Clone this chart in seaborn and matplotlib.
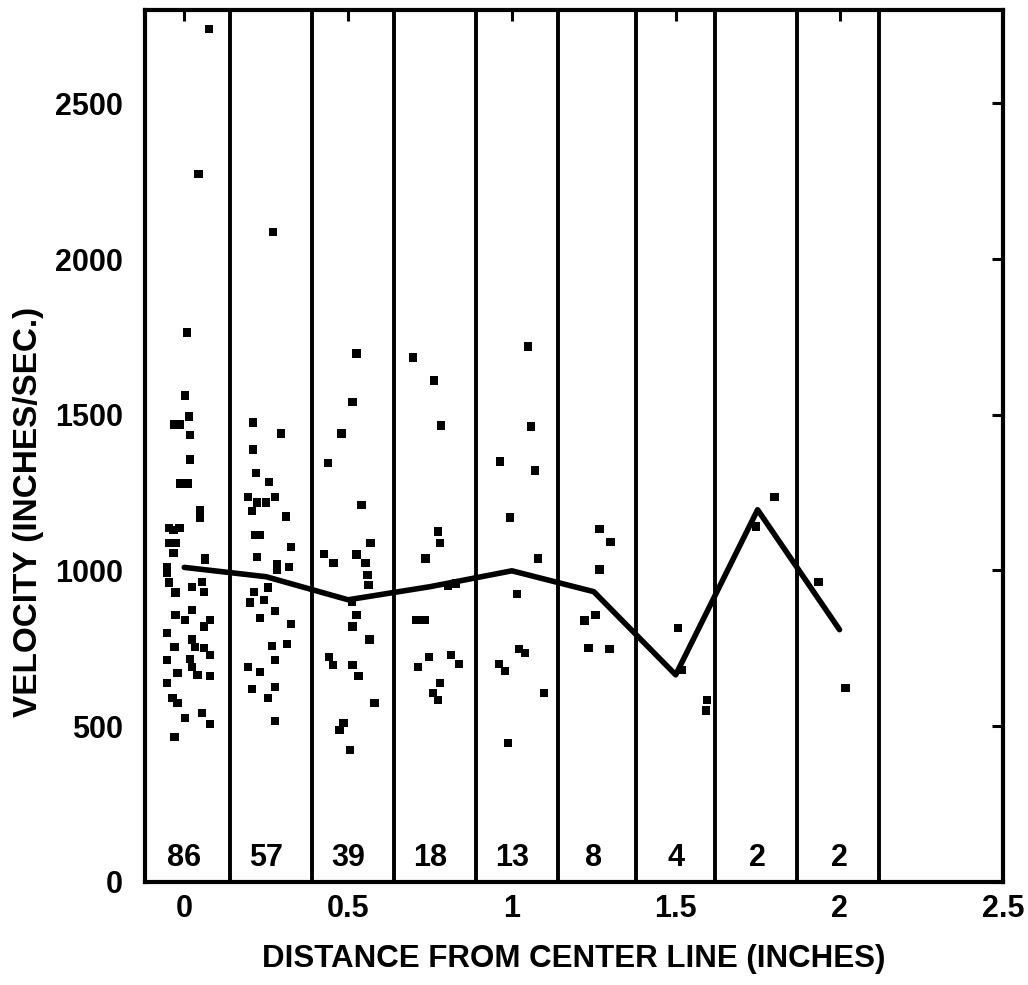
import matplotlib
matplotlib.use("Agg")
import matplotlib.pyplot as plt
import seaborn as sns
import pandas as pd

# ---- data ----
bin_centers = [0.0, 0.25, 0.5, 0.75, 1.0, 1.25, 1.5, 1.75, 2.0]
bin_counts = [86, 57, 39, 18, 13, 8, 4, 2, 2]
bin_means = [1010, 980, 906, 948, 999, 932, 665, 1195, 810]
bin_edges = [0.14, 0.39, 0.64, 0.89, 1.14, 1.38, 1.62, 1.87, 2.12]

x_bin0 = [0.076, 0.043, 0.009, 0.003, 0.015, -0.03, -0.012, 0.018, 0.018, -0.012,
          0.012, 0.049, 0.049, -0.046, -0.015, -0.046, -0.027, -0.033, 0.064, -0.052,
          -0.052, -0.046, 0.024, 0.055, 0.061, -0.027, 0.024, 0.003, -0.027, 0.079,
          0.061, -0.052, -0.03, 0.024, 0.033, 0.061, 0.079, -0.052, 0.018, 0.024,
          0.04, -0.021, -0.052, 0.079, -0.036, -0.021, 0.055, 0.003, 0.079, -0.03,
          -0.033, 0.064]
y_bin0 = [2738, 2272, 1764, 1562, 1494, 1469, 1469, 1436, 1356, 1279,
          1279, 1195, 1170, 1137, 1137, 1089, 1089, 1057, 1035, 1012,
          993, 961, 948, 964, 932, 929, 874, 842, 858, 842,
          820, 800, 755, 778, 755, 752, 729, 713, 716, 691,
          665, 671, 639, 662, 591, 575, 543, 527, 508, 466,
          1131, 1041]

x_bin1 = [0.27, 0.21, 0.295, 0.21, 0.219, 0.258, 0.195, 0.277, 0.222, 0.249,
          0.207, 0.31, 0.216, 0.231, 0.325, 0.222, 0.283, 0.319, 0.283, 0.213,
          0.255, 0.2, 0.243, 0.277, 0.231, 0.325, 0.313, 0.267, 0.277, 0.195,
          0.231, 0.207, 0.277, 0.255, 0.277]
y_bin1 = [2086, 1475, 1440, 1388, 1314, 1285, 1237, 1237, 1218, 1218,
          1192, 1173, 1115, 1115, 1076, 1044, 1019, 1012, 1003, 932,
          945, 897, 906, 871, 848, 829, 765, 758, 713, 691,
          675, 620, 627, 591, 517]

x_bin2 = [0.526, 0.514, 0.48, 0.438, 0.541, 0.568, 0.426, 0.456, 0.526, 0.553,
          0.559, 0.562, 0.511, 0.526, 0.514, 0.565, 0.441, 0.453, 0.514, 0.532,
          0.581, 0.486, 0.474, 0.505]
y_bin2 = [1697, 1542, 1440, 1346, 1211, 1089, 1054, 1025, 1051, 1025,
          986, 954, 900, 858, 820, 778, 723, 697, 697, 662,
          575, 511, 488, 424]

x_bin3 = [0.699, 0.763, 0.784, 0.775, 0.781, 0.736, 0.805, 0.83, 0.708, 0.733,
          0.748, 0.714, 0.815, 0.839, 0.781, 0.76, 0.775]
y_bin3 = [1684, 1610, 1465, 1125, 1089, 1038, 951, 958, 842, 842,
          723, 691, 729, 700, 639, 607, 585]

x_bin4 = [1.049, 1.058, 0.964, 1.07, 0.994, 1.079, 1.015, 1.021, 1.04, 0.96,
          0.979, 1.097, 0.988]
y_bin4 = [1719, 1462, 1350, 1321, 1170, 1038, 925, 749, 736, 700,
          678, 607, 447]

x_bin5 = [1.267, 1.301, 1.267, 1.255, 1.222, 1.234, 1.298]
y_bin5 = [1134, 1092, 1003, 858, 839, 752, 749]

x_bin6 = [1.508, 1.52, 1.596, 1.593]
y_bin6 = [816, 681, 585, 550]

x_bin7 = [1.802, 1.745]
y_bin7 = [1237, 1141]

x_bin8 = [1.936, 2.018]
y_bin8 = [964, 623]

x_ticks = [0, 0.5, 1, 1.5, 2, 2.5]
x_tick_labels = ["0", "0.5", "1", "1.5", "2", "2.5"]
y_ticks = [0, 500, 1000, 1500, 2000, 2500]
y_tick_labels = ["0", "500", "1000", "1500", "2000", "2500"]
x_label = "DISTANCE FROM CENTER LINE (INCHES)"
y_label = "VELOCITY (INCHES/SEC.)"

# ---- build frames ----
xs = x_bin0 + x_bin1 + x_bin2 + x_bin3 + x_bin4 + x_bin5 + x_bin6 + x_bin7 + x_bin8
ys = y_bin0 + y_bin1 + y_bin2 + y_bin3 + y_bin4 + y_bin5 + y_bin6 + y_bin7 + y_bin8
pts = pd.DataFrame({"distance": xs, "velocity": ys})
means = pd.DataFrame({"distance": bin_centers, "velocity": bin_means})

sns.set_theme(style="white")
plt.rcParams["font.family"] = ["Liberation Sans", "DejaVu Sans"]
plt.rcParams["font.weight"] = "bold"

fig = plt.figure(figsize=(10.28, 9.85), dpi=100)
ax = fig.add_axes([0.141, 0.1046, 0.835, 0.8854])

for e in bin_edges:
    ax.axvline(e, color="black", lw=2.8, zorder=1)

sns.scatterplot(data=pts, x="distance", y="velocity", ax=ax, marker="s",
                s=36, color="black", edgecolor="none", linewidth=0, zorder=3)
sns.lineplot(data=means, x="distance", y="velocity", ax=ax, color="black",
             lw=4, zorder=4)

for cx, n in zip(bin_centers, bin_counts):
    ax.text(cx, 28, str(n), ha="center", va="bottom", fontsize=22,
            color="black", fontweight="bold")

ax.set_xlim(-0.12, 2.5)
ax.set_ylim(0, 2800)
ax.set_xticks(x_ticks)
ax.set_xticklabels(x_tick_labels)
ax.set_yticks(y_ticks)
ax.set_yticklabels(y_tick_labels)
ax.tick_params(direction="in", length=8, width=2.2, top=True, right=True,
               labelsize=22, colors="black")
ax.tick_params(axis="x", pad=9)
ax.tick_params(axis="y", pad=16)
for lab in ax.get_xticklabels() + ax.get_yticklabels():
    lab.set_fontweight("bold")
for sp in ax.spines.values():
    sp.set_linewidth(3)
    sp.set_color("black")

ax.set_xlabel(x_label, fontsize=22.5, fontweight="bold", color="black", labelpad=14)
ax.set_ylabel(y_label, fontsize=24, fontweight="bold", color="black")
ax.yaxis.set_label_coords(-0.118, 0.424)

fig.savefig("out.png", dpi=100, facecolor="white")
